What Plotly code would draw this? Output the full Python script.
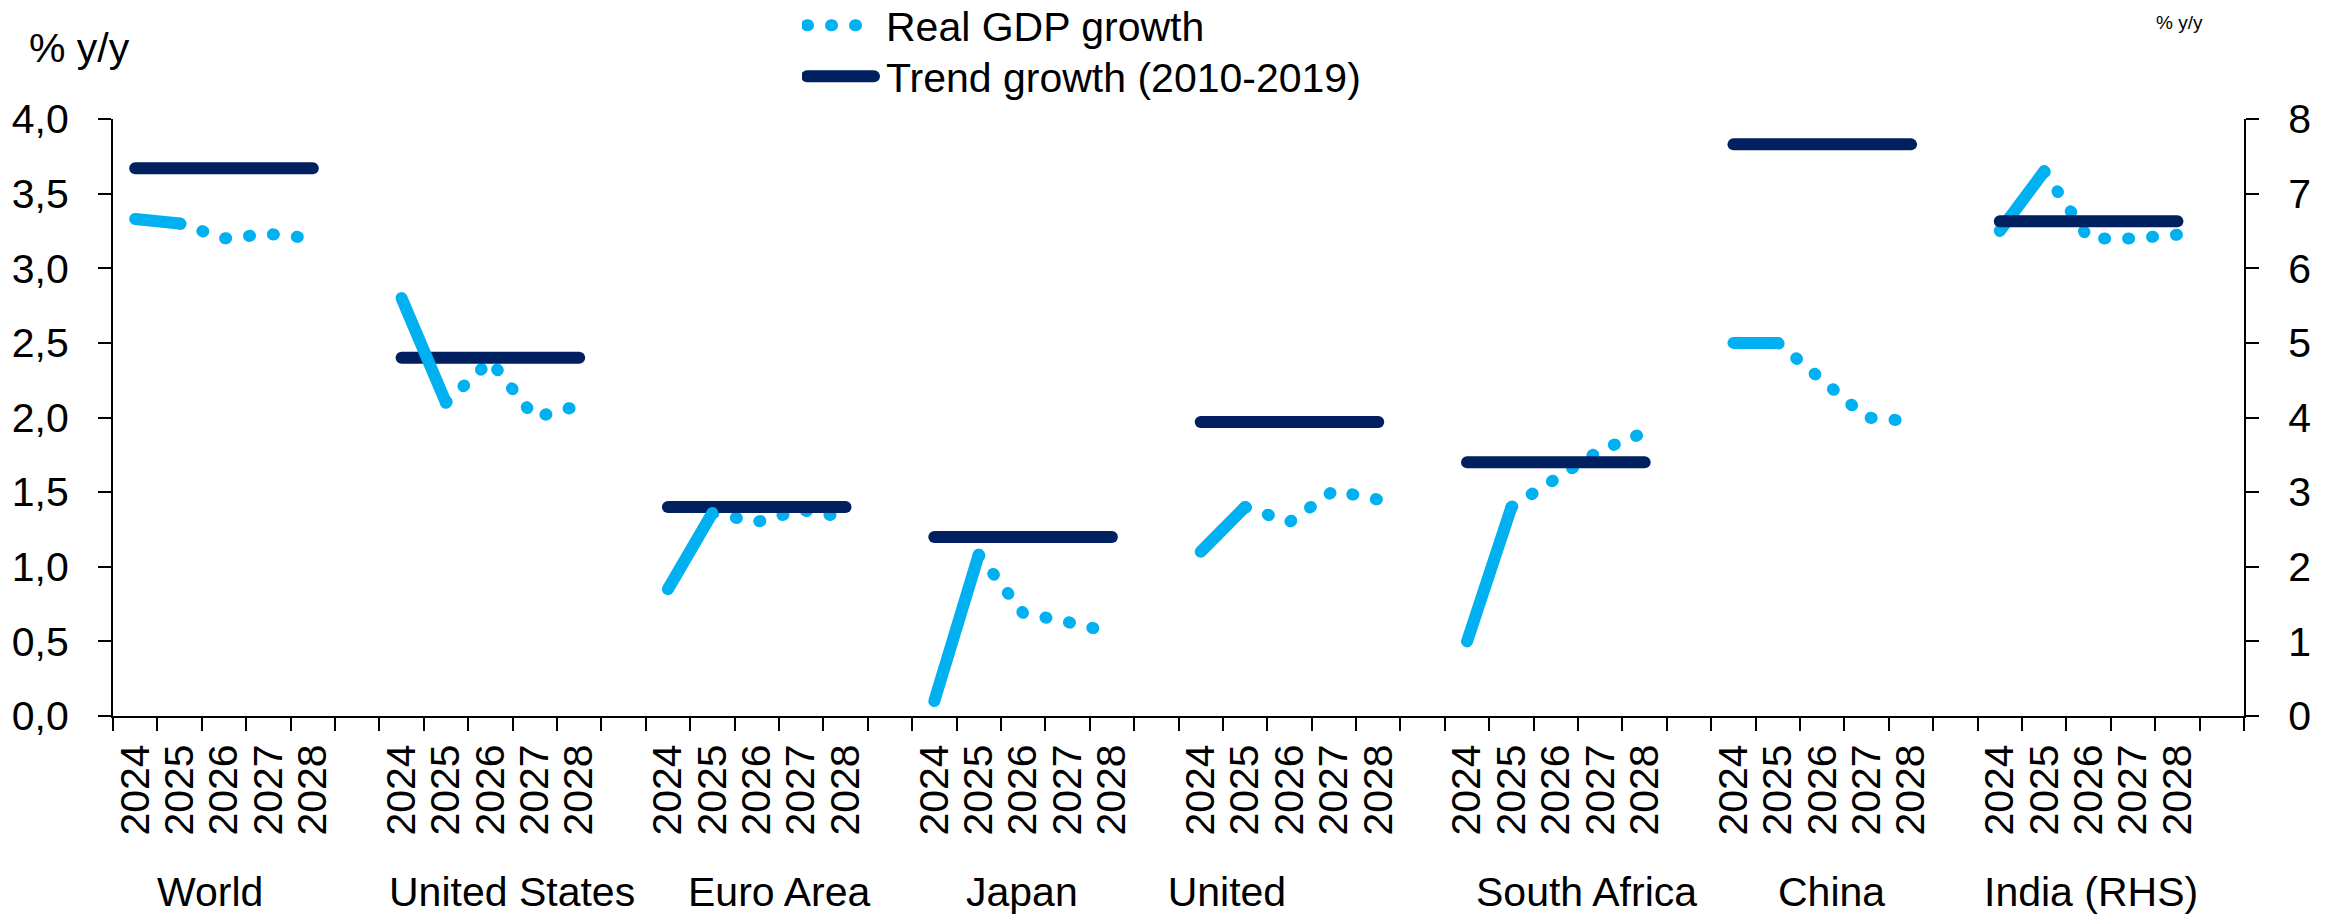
import plotly.graph_objects as go

# ---------------- data ----------------
countries = ["World", "United States", "Euro Area", "Japan",
             "United Kingdom", "South Africa", "China", "India (RHS)"]
years = ["2024", "2025", "2026", "2027", "2028"]

gdp_world = [3.33, 3.30, 3.20, 3.23, 3.20]
gdp_us = [2.80, 2.10, 2.38, 2.00, 2.08]
gdp_euro = [0.85, 1.36, 1.30, 1.38, 1.33]
gdp_japan = [0.10, 1.08, 0.69, 0.63, 0.56]
gdp_uk = [1.10, 1.40, 1.30, 1.51, 1.45]
gdp_sa = [0.50, 1.40, 1.60, 1.78, 1.90]
gdp_china = [5.00, 5.00, 4.50, 4.00, 3.95]   # RHS scale
gdp_india = [6.50, 7.30, 6.40, 6.40, 6.45]   # RHS scale

trend_growth = [3.67, 2.40, 1.40, 1.20, 1.97, 1.70, 7.66, 6.63]
on_rhs = [False, False, False, False, False, False, True, True]

gdp_all = [gdp_world, gdp_us, gdp_euro, gdp_japan, gdp_uk, gdp_sa, gdp_china, gdp_india]

left_ticks = [0, 0.5, 1, 1.5, 2, 2.5, 3, 3.5, 4]
right_ticks = [0, 1, 2, 3, 4, 5, 6, 7, 8]

# ---------------- styling ----------------
LIGHT = "#00B0F0"
NAVY = "#002060"
FONT = "Arial, 'Liberation Sans', sans-serif"
FS = 41
W, H = 2331, 915
ML, MR, MT, MB = 113, 87, 119, 199

# category keys (5 years + 1 empty slot per country)
def key(c, y):
    return f"{c}|{y}"

cat_array, tick_text = [], []
for c in countries:
    for y in years:
        cat_array.append(key(c, y))
        tick_text.append(y)
    cat_array.append(key(c, "gap"))
    tick_text.append("")


def build(side_rhs):
    solid_x, solid_y, dot_x, dot_y, tr_x, tr_y = [], [], [], [], [], []
    for c, vals, t, r in zip(countries, gdp_all, trend_growth, on_rhs):
        if r != side_rhs:
            continue
        solid_x += [key(c, years[0]), key(c, years[1]), key(c, "gap")]
        solid_y += [vals[0], vals[1], None]
        dot_x += [key(c, y) for y in years[1:]] + [key(c, "gap")]
        dot_y += list(vals[1:]) + [None]
        tr_x += [key(c, years[0]), key(c, years[-1]), key(c, "gap")]
        tr_y += [t, t, None]
    return solid_x, solid_y, dot_x, dot_y, tr_x, tr_y


fig = go.Figure()
DOT_DASH = "1px,23px"

# primary axis
sx, sy, dx, dy, tx, ty = build(False)
fig.add_trace(go.Scatter(x=dx, y=dy, mode="lines", name="Real GDP growth",
                         legend="legend",
                         line=dict(color=LIGHT, width=12, dash=DOT_DASH),
                         connectgaps=False, hoverinfo="skip"))
fig.add_trace(go.Scatter(x=tx, y=ty, mode="lines", name="Trend growth (2010-2019)",
                         legend="legend2",
                         line=dict(color=NAVY, width=12),
                         connectgaps=False, hoverinfo="skip"))
fig.add_trace(go.Scatter(x=sx, y=sy, mode="lines", showlegend=False,
                         line=dict(color=LIGHT, width=12),
                         connectgaps=False, hoverinfo="skip"))

# secondary axis (China, India)
sx, sy, dx, dy, tx, ty = build(True)
fig.add_trace(go.Scatter(x=sx, y=sy, mode="lines", showlegend=False, yaxis="y2",
                         line=dict(color=LIGHT, width=12),
                         connectgaps=False, hoverinfo="skip"))
fig.add_trace(go.Scatter(x=dx, y=dy, mode="lines", showlegend=False, yaxis="y2",
                         line=dict(color=LIGHT, width=12, dash=DOT_DASH),
                         connectgaps=False, hoverinfo="skip"))
fig.add_trace(go.Scatter(x=tx, y=ty, mode="lines", showlegend=False, yaxis="y2",
                         line=dict(color=NAVY, width=12),
                         connectgaps=False, hoverinfo="skip"))

axis_common = dict(showgrid=False, zeroline=False, showline=True, linecolor="black",
                   linewidth=2, ticks="outside", ticklen=13, tickwidth=2,
                   tickcolor="black", tickfont=dict(family=FONT, size=FS, color="black"))

legend_common = dict(xref="container", yref="container", x=802 / W,
                     xanchor="left", yanchor="top", bgcolor="rgba(0,0,0,0)",
                     font=dict(family=FONT, size=FS, color="black"),
                     itemwidth=74, tracegroupgap=0)

fig.update_layout(
    width=W, height=H, autosize=False,
    margin=dict(l=ML, r=MR, t=MT, b=MB, pad=0, autoexpand=False),
    paper_bgcolor="white", plot_bgcolor="white",
    separators=",.",
    font=dict(family=FONT, size=FS, color="black"),
    xaxis=dict(type="category", categoryorder="array", categoryarray=cat_array,
               tickmode="array", tickvals=cat_array, ticktext=tick_text,
               tickson="boundaries", tickangle=-90, range=[-0.5, len(cat_array) - 0.5],
               ticklabelstandoff=10, automargin=False, **axis_common),
    yaxis=dict(range=[0, 4], tickmode="array", tickvals=left_ticks, tickformat=".1f",
               ticklabelstandoff=21, automargin=False, **axis_common),
    yaxis2=dict(range=[0, 8], tickmode="array", tickvals=right_ticks, tickformat="d",
                overlaying="y", side="right", ticklabelstandoff=21, automargin=False,
                **axis_common),
    legend=dict(y=1.0, **legend_common),
    legend2=dict(y=1 - 43 / H, **legend_common),
    showlegend=True,
)

# axis titles ("% y/y") and group labels
def py(px_y):
    return (H - MB - px_y) / (H - MT - MB)

def pxx(px_x):
    return (px_x - ML) / (W - ML - MR)

annos = [
    dict(text="% y/y", xref="paper", yref="paper", x=pxx(27), y=py(48),
         xanchor="left", yanchor="middle", showarrow=False,
         font=dict(family=FONT, size=FS, color="black")),
    dict(text="% y/y", xref="paper", yref="paper", x=pxx(2154), y=py(23),
         xanchor="left", yanchor="middle", showarrow=False,
         font=dict(family=FONT, size=19, color="black")),
]
group_label_x = [1.68, 8.49, 14.52, 19.97, 24.59, 32.70, 38.20, 44.05]
group_label_text = ["World", "United States", "Euro Area", "Japan",
                    "United<br>Kingdom", "South Africa", "China", "India (RHS)"]
for gx, gt in zip(group_label_x, group_label_text):
    annos.append(dict(text=gt, xref="x", yref="paper", x=gx, y=py(867),
                      xanchor="center", yanchor="top", showarrow=False,
                      font=dict(family=FONT, size=FS, color="black")))
fig.update_layout(annotations=annos)

post = """
var gd = document.getElementById('{plot_id}');
function fixLines(){
  gd.querySelectorAll('path.js-line').forEach(function(p){
    p.style.strokeLinecap = 'round';
    p.style.strokeLinejoin = 'round';
  });
  gd.querySelectorAll('.legendlines path').forEach(function(p){
    p.setAttribute('d', 'M5,0h67');
    p.style.strokeWidth = '12px';
  });
  var lg = gd.querySelector('g.legend');
  if (lg) {
    var t = lg.getAttribute('transform') || '';
    if (lg.getAttribute('data-shifted') !== t) {
      var m = t.match(/translate\\(\\s*([-\\d.e]+)[ ,]+([-\\d.e]+)\\s*\\)/);
      if (m) {
        var nt = 'translate(' + m[1] + ',' + (parseFloat(m[2]) - 8) + ')';
        lg.setAttribute('transform', nt);
        lg.setAttribute('data-shifted', nt);
      }
    }
  }
}
fixLines();
gd.on('plotly_afterplot', fixLines);
"""

fig.write_html("out.html", post_script=post, config={"displayModeBar": False})
